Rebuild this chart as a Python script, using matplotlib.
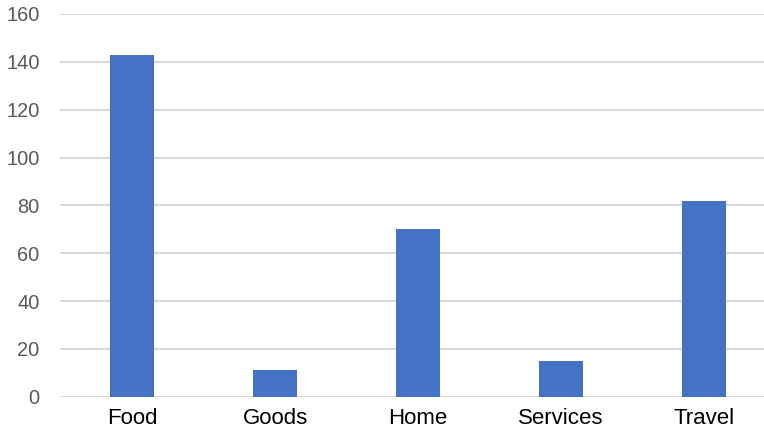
import matplotlib
matplotlib.use("Agg")
import matplotlib.pyplot as plt

categories = ["Food", "Goods", "Home", "Services", "Travel"]
values = [143, 11, 70, 15, 82]
yticks = [0, 20, 40, 60, 80, 100, 120, 140, 160]

plt.rcParams['font.family'] = ['Liberation Sans', 'DejaVu Sans']

fig = plt.figure(figsize=(7.64, 4.28), dpi=100)
ax = fig.add_axes([60.5 / 764, 31.3 / 428, 715 / 764, 382.7 / 428])

x = range(len(categories))
ax.bar(x, values, width=0.31, color="#4472C4", zorder=3)

ax.set_xlim(-0.5, len(categories) - 0.5)
ax.set_ylim(0, 160)
ax.set_yticks(yticks)
ax.set_xticks(list(x))
ax.set_xticklabels(categories, fontsize=16, color="black")
ax.tick_params(axis="y", labelsize=14.4, labelcolor="#595959", length=0, pad=15)
ax.tick_params(axis="x", length=0, pad=8)

ax.grid(axis="y", color="#d9d9d9", linewidth=1.5, zorder=0)
for s in ax.spines.values():
    s.set_visible(False)

fig.savefig("out.png", dpi=100)
